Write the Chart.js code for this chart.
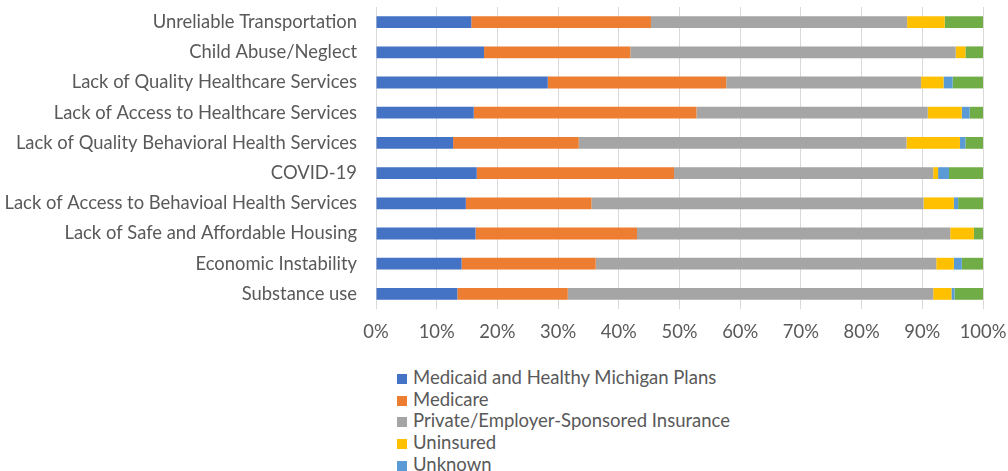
<!DOCTYPE html>
<html>
<head>
<meta charset="utf-8">
<script src="https://cdn.jsdelivr.net/npm/chart.js@4.4.1/dist/chart.umd.min.js"></script>
<style>
  html, body { margin: 0; padding: 0; background: #fff; overflow: hidden; }
  #wrap { position: relative; width: 1008px; height: 471px; }
  #box { position: absolute; left: 0; top: 0; width: 1008px; height: 350px; }
  #legend { position: absolute; left: 397px; top: 367px; font-family: Lato, sans-serif; font-size: 18.5px; color: #595959; }
  #legend div { height: 21.7px; line-height: 21.7px; white-space: nowrap; }
  #legend span { display: inline-block; width: 10px; height: 10px; margin-right: 6px; vertical-align: 0px; }
</style>
</head>
<body>
<div id="wrap">
  <div id="box"><canvas id="chart"></canvas></div>
  <div id="legend"></div>
</div>
<script>
// categories, top to bottom
const categories = [
    "Unreliable Transportation",
    "Child Abuse/Neglect",
    "Lack of Quality Healthcare Services",
    "Lack of Access to Healthcare Services",
    "Lack of Quality Behavioral Health Services",
    "COVID-19",
    "Lack of Access to Behavioal Health Services",
    "Lack of Safe and Affordable Housing",
    "Economic Instability",
    "Substance use"
];

// percent of responses per payer
const medicaid   = [15.7, 17.8, 28.3, 16.1, 12.7, 16.6, 14.8, 16.4, 14.1, 13.4];
const medicare   = [29.6, 24.1, 29.4, 36.7, 20.7, 32.5, 20.7, 26.6, 22.1, 18.2];
const privateIns = [42.2, 53.6, 32.1, 38.1, 54.0, 42.7, 54.7, 51.6, 56.1, 60.2];
const uninsured  = [6.2, 1.6, 3.7, 5.6, 8.8, 0.8, 5.0, 3.9, 2.9, 3.0];
const unknown    = [0, 0, 1.5, 1.3, 0.9, 1.8, 0.7, 0, 1.3, 0.5];
const other      = [6.3, 2.9, 5.0, 2.2, 2.9, 5.6, 4.1, 1.5, 3.5, 4.7];

const xTicks = [0, 10, 20, 30, 40, 50, 60, 70, 80, 90, 100];

const txt = "#595959";
const font = { family: "Lato, sans-serif", size: 18.4 };

function ds(label, data, color) {
    return { label: label, data: data, backgroundColor: color, borderWidth: 0,
             barPercentage: 1, categoryPercentage: 0.39 };
}

const chart = new Chart(document.getElementById("chart"), {
    type: "bar",
    data: {
        labels: categories,
        datasets: [
            ds("Medicaid and Healthy Michigan Plans", medicaid, "#4472C4"),
            ds("Medicare", medicare, "#ED7D31"),
            ds("Private/Employer-Sponsored Insurance", privateIns, "#A5A5A5"),
            ds("Uninsured", uninsured, "#FFC000"),
            ds("Unknown", unknown, "#5B9BD5"),
            ds("Other", other, "#70AD47")
        ]
    },
    options: {
        indexAxis: "y",
        responsive: true,
        maintainAspectRatio: false,
        animation: false,
        layout: { padding: { top: 7, right: 25, left: 0, bottom: 0 } },
        plugins: { legend: { display: false }, tooltip: { enabled: false } },
        scales: {
            x: {
                stacked: true,
                min: 0, max: 100,
                afterBuildTicks: s => { s.ticks = xTicks.map(v => ({ value: v })); },
                ticks: { callback: v => v + "%", color: txt, font: font, padding: 12, maxRotation: 0 },
                grid: { color: "#D9D9D9", lineWidth: 1, drawTicks: false },
                border: { display: false },
                afterFit: s => { s.height = 41; s.paddingLeft = 0; s.paddingRight = 0; }
            },
            y: {
                stacked: true,
                ticks: { color: txt, font: font, padding: 19, autoSkip: false },
                grid: { display: false, drawTicks: false },
                border: { display: false },
                afterFit: s => { s.width = 376; s.paddingTop = 0; s.paddingBottom = 0; }
            }
        }
    }
});

// legend, one item per line
const leg = document.getElementById("legend");
chart.data.datasets.forEach(d => {
    const row = document.createElement("div");
    row.innerHTML = '<span style="background:' + d.backgroundColor + '"></span>' + d.label;
    leg.appendChild(row);
});
</script>
</body>
</html>
